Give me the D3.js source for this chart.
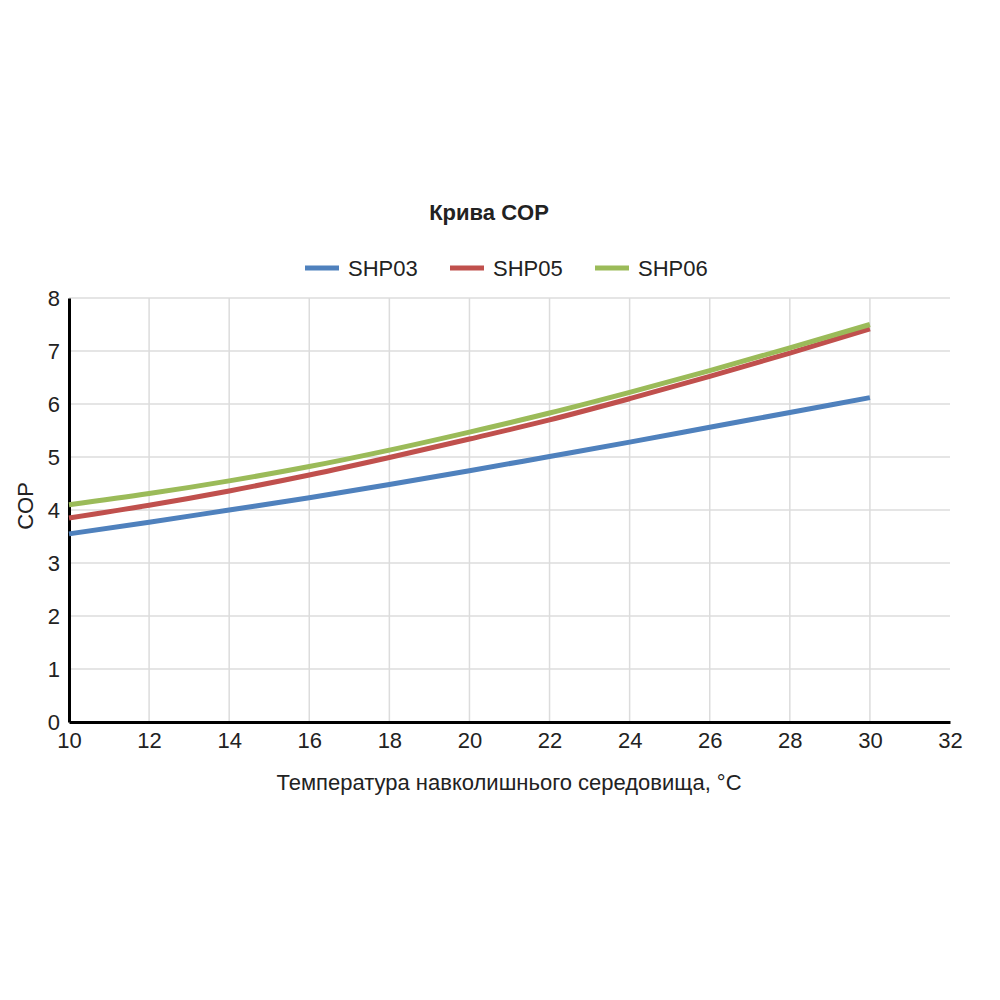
<!DOCTYPE html>
<html lang="uk">
<head>
    <meta charset="utf-8">
    <style>
        body { margin: 0; background: #fff; }
        svg { width: 1000px; height: 1000px; display: block; }
        text { font-family: "Liberation Sans", Arial, sans-serif; fill: #222; }
    </style>
</head>
<body>
    <svg></svg>
    <script src="https://cdn.jsdelivr.net/npm/d3@7/dist/d3.min.js"></script>
    <script>
        const svg = d3.select("svg");

        // Data
        const temps = [10, 12, 14, 16, 18, 20, 22, 24, 26, 28, 30];
        const shp03 = [3.55, 3.77, 4.0, 4.23, 4.48, 4.74, 5.01, 5.28, 5.56, 5.84, 6.12];
        const shp05 = [3.85, 4.09, 4.36, 4.66, 4.99, 5.34, 5.7, 6.1, 6.52, 6.96, 7.42];
        const shp06 = [4.1, 4.31, 4.55, 4.82, 5.13, 5.47, 5.83, 6.22, 6.63, 7.06, 7.5];
        const seriesNames = ["SHP03", "SHP05", "SHP06"];
        const seriesColors = ["#4f81bd", "#c0504d", "#9bbb59"];
        const xTicks = [10, 12, 14, 16, 18, 20, 22, 24, 26, 28, 30, 32];
        const yTicks = [0, 1, 2, 3, 4, 5, 6, 7, 8];

        const series = [shp03, shp05, shp06].map((vals, i) => ({
            name: seriesNames[i],
            color: seriesColors[i],
            points: temps.map((t, j) => ({ x: t, y: vals[j] }))
        }));

        const plotLeft = 69, plotRight = 950, plotTop = 298, plotBottom = 722;
        const xScale = d3.scaleLinear().domain([10, 32]).range([plotLeft, plotRight]);
        const yScale = d3.scaleLinear().domain([0, 8]).range([plotBottom, plotTop]);

        // Grid
        const grid = svg.append("g");
        grid.selectAll(".hg").data(yTicks.slice(1)).enter().append("line")
            .attr("x1", plotLeft).attr("x2", plotRight)
            .attr("y1", d => yScale(d)).attr("y2", d => yScale(d))
            .attr("stroke", "#dcdcdc").attr("stroke-width", 1.5);
        grid.selectAll(".vg").data(xTicks.slice(1, -1)).enter().append("line")
            .attr("x1", d => xScale(d)).attr("x2", d => xScale(d))
            .attr("y1", plotTop).attr("y2", plotBottom)
            .attr("stroke", "#dcdcdc").attr("stroke-width", 1.5);

        // Axes
        const xAxis = svg.append("g").attr("transform", `translate(0, ${plotBottom})`)
            .call(d3.axisBottom(xScale).tickValues(xTicks).tickSize(0).tickPadding(10));
        const yAxis = svg.append("g").attr("transform", `translate(${plotLeft}, 0)`)
            .call(d3.axisLeft(yScale).tickValues(yTicks).tickSize(0).tickPadding(9));
        [xAxis, yAxis].forEach(a => {
            a.select(".domain").attr("stroke", "#000").attr("stroke-width", 3);
            a.selectAll("text").style("font-size", "22px").attr("fill", "#222")
                .style("font-family", "'Liberation Sans', Arial, sans-serif");
        });

        // Lines
        const line = d3.line()
            .x(d => xScale(d.x))
            .y(d => yScale(d.y))
            .curve(d3.curveMonotoneX);

        svg.append("g").selectAll("path").data(series).enter().append("path")
            .attr("d", d => line(d.points))
            .attr("fill", "none")
            .attr("stroke", d => d.color)
            .attr("stroke-width", 5);

        // Title
        svg.append("text").attr("x", 489).attr("y", 220)
            .attr("text-anchor", "middle")
            .style("font-size", "22px").style("font-weight", "bold")
            .text("Крива COP");

        // Legend
        const legendX = [305, 450, 595];
        const legend = svg.append("g").selectAll("g").data(series).enter().append("g")
            .attr("transform", (d, i) => `translate(${legendX[i]}, 268)`);
        legend.append("line").attr("x1", 0).attr("x2", 34)
            .attr("stroke", d => d.color).attr("stroke-width", 5);
        legend.append("text").attr("x", 43).attr("y", 8)
            .style("font-size", "22px").text(d => d.name);

        // Axis titles
        svg.append("text").attr("x", 509).attr("y", 790)
            .attr("text-anchor", "middle").style("font-size", "22px")
            .text("Температура навколишнього середовища, °C");
        svg.append("text")
            .attr("transform", "translate(33, 506) rotate(-90)")
            .attr("text-anchor", "middle").style("font-size", "22px")
            .text("COP");
    </script>
</body>
</html>
